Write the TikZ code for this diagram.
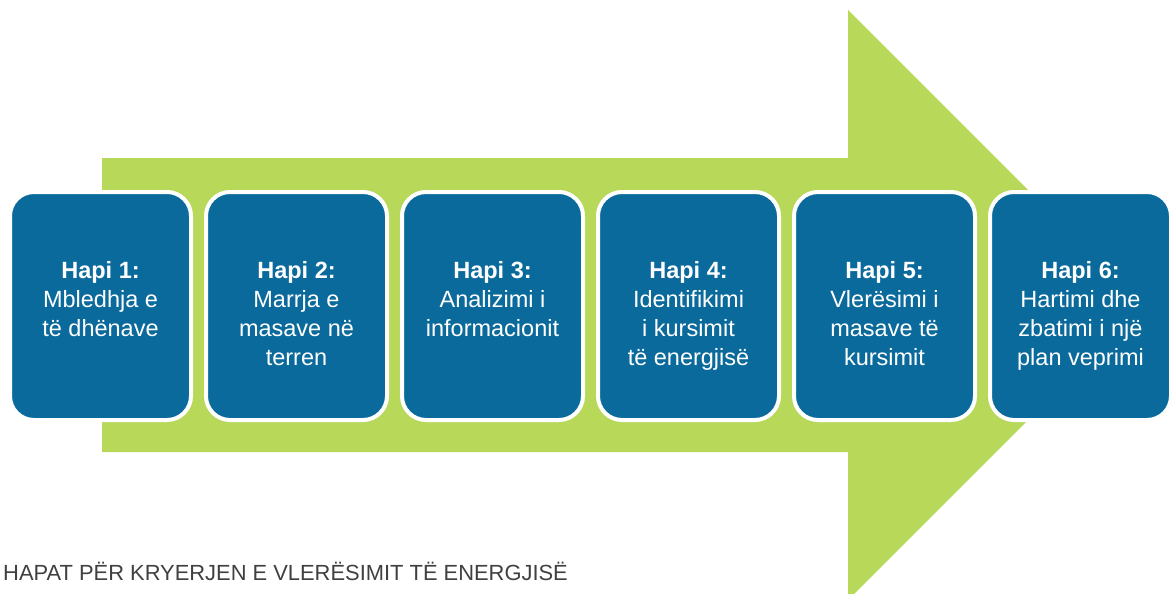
\documentclass[tikz,border=0pt]{standalone}
\usepackage{fontspec}
\setmainfont{Liberation Sans}
\usepackage{tikz}
\usetikzlibrary{positioning}
\definecolor{arrowgreen}{RGB}{184,216,90}
\definecolor{stepblue}{RGB}{11,106,156}
\tikzset{
  hapibox/.style={draw=white,line width=4pt,fill=stepblue,rounded corners=24pt,
    minimum width=181pt,minimum height=228pt,inner sep=0pt},
  hapitext/.style={text=white,align=center,inner sep=0pt,anchor=north,
    font=\fontsize{23.5}{29}\selectfont}
}

\begin{document}
\begin{tikzpicture}[x=1pt,y=-1pt]
		\useasboundingbox (0,0) rectangle (1173,594);
		% big arrow behind the steps
		\fill[arrowgreen] (102,158) -- (848,158) -- (848,10) -- (1143,305)
			-- (848,600) -- (848,452) -- (102,452) -- cycle;
		\foreach \i/\txt in {1/{Mbledhja e\\të dhënave},2/{Marrja e\\masave në\\terren},
				3/{Analizimi i\\informacionit},4/{Identifikimi\\i kursimit\\të energjisë},
				5/{Vlerësimi i\\masave të\\kursimit},6/{Hartimi dhe\\zbatimi i një\\plan veprimi}}{
				\node[hapibox] (hapi\i) at (\i*196-95.5,306) {};
				\node[hapitext] (tekst\i) at (\i*196-95.5,261) {{\bfseries Hapi \i:}\\\txt};
		}
		\node[anchor=base west,inner sep=0pt,text=black!75,
			font=\fontsize{21.9}{26}\selectfont] (titulli) at (3,580)
			{HAPAT PËR KRYERJEN E VLERËSIMIT TË ENERGJISË};
		\end{tikzpicture}
\end{document}
